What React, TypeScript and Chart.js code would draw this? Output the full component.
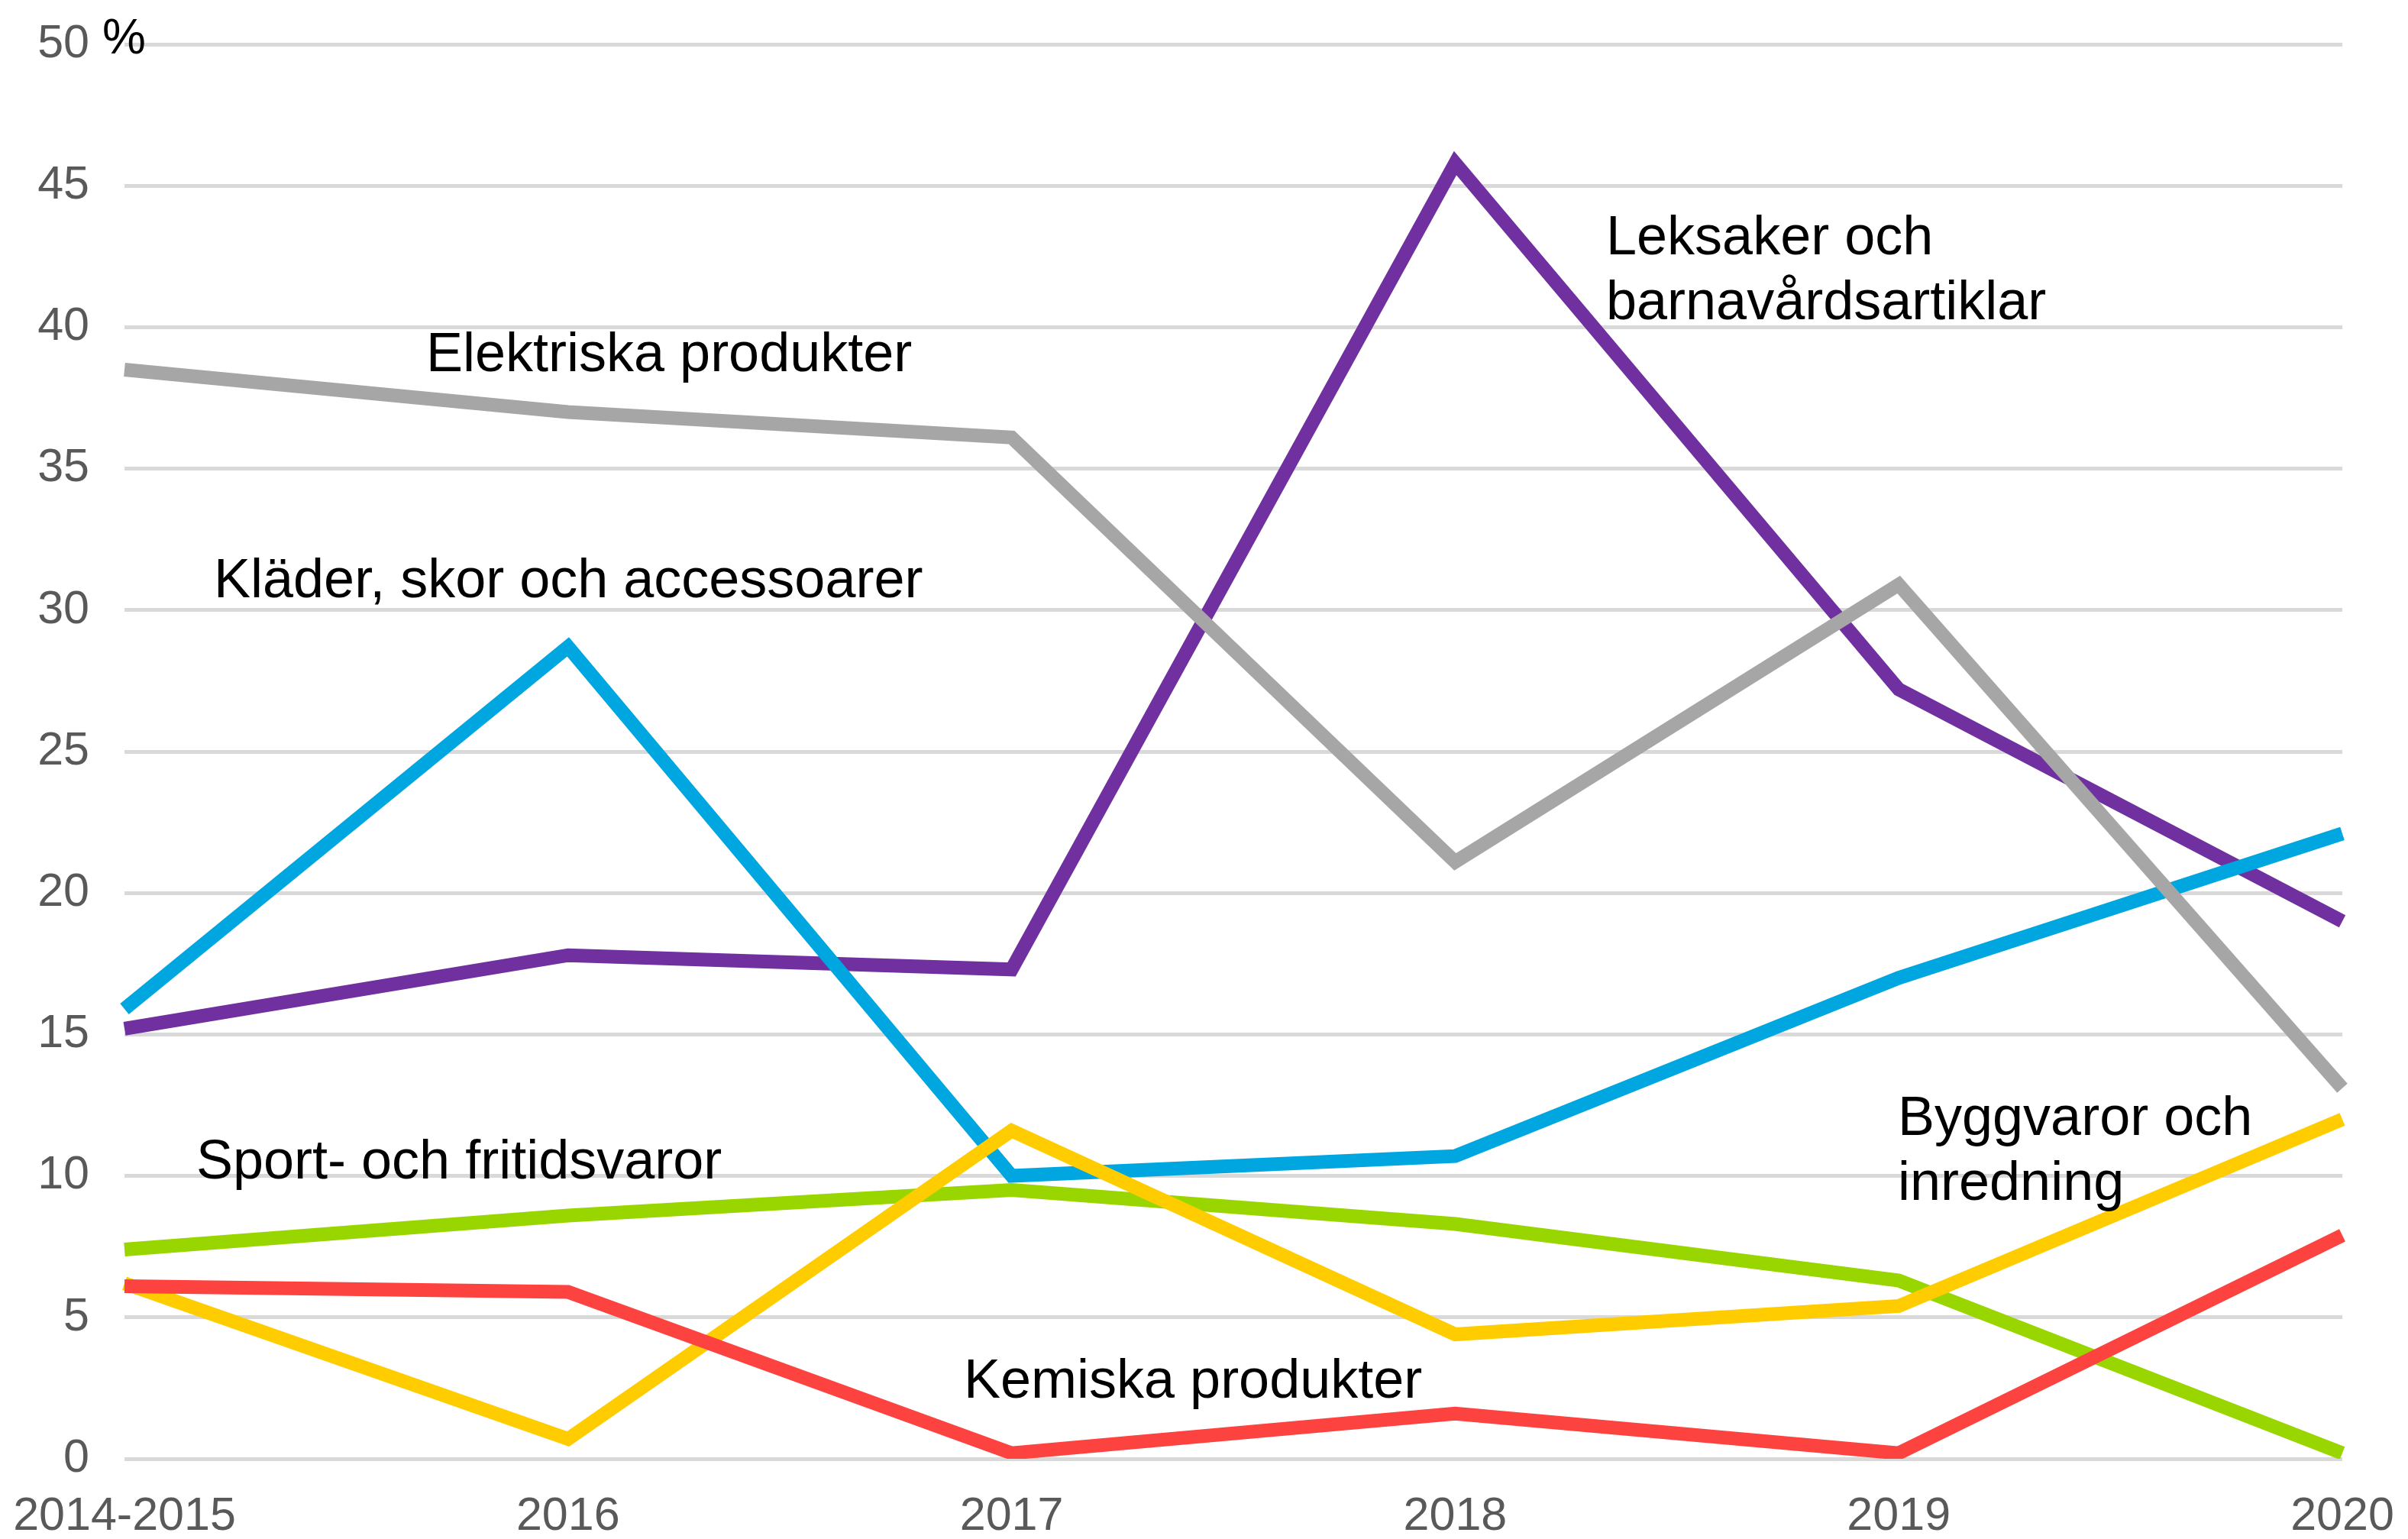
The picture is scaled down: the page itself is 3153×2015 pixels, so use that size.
import React, { useEffect, useRef } from "react";
import { Chart, registerables } from "chart.js";

Chart.register(...registerables);

const categories = ["2014-2015", "2016", "2017", "2018", "2019", "2020"];
const kemiska = [6.1, 5.9, 0.2, 1.6, 0.2, 7.9];
const elektriska = [38.5, 37.0, 36.1, 21.1, 30.9, 13.1];
const byggvaror = [6.2, 0.7, 11.6, 4.4, 5.4, 12.0];
const sport = [7.4, 8.6, 9.5, 8.3, 6.3, 0.2];
const klader = [15.9, 28.7, 10.0, 10.7, 17.0, 22.1];
const leksaker = [15.2, 17.8, 17.3, 45.8, 27.2, 19.0];
const yTicks = [0, 5, 10, 15, 20, 25, 30, 35, 40, 45, 50];

const W = 3153;
const H = 2015;
const FONT = "'Liberation Sans', Arial, sans-serif";

const annotations: { lines: string[]; x: number; y: number }[] = [
  { lines: ["Elektriska produkter"], x: 558, y: 486 },
  { lines: ["Leksaker och", "barnavårdsartiklar"], x: 2103, y: 333 },
  { lines: ["Kläder, skor och accessoarer"], x: 280, y: 782 },
  { lines: ["Sport- och fritidsvaror"], x: 257, y: 1543 },
  { lines: ["Byggvaror och", "inredning"], x: 2485, y: 1486 },
  { lines: ["Kemiska produkter"], x: 1262, y: 1830 },
];

const textPlugin = {
  id: "textPlugin",
  afterDatasetsDraw(chart: any) {
    const ctx = chart.ctx;
    ctx.save();
    ctx.fillStyle = "#000000";
    ctx.textBaseline = "alphabetic";
    ctx.textAlign = "left";
    ctx.font = `72px ${FONT}`;
    for (const a of annotations) {
      a.lines.forEach((l, i) => ctx.fillText(l, a.x, a.y + i * 85));
    }
    ctx.font = `64px ${FONT}`;
    ctx.fillText("%", 134, 70);
    ctx.restore();
  },
};

export default function App() {
  const ref = useRef<HTMLCanvasElement>(null);
  useEffect(() => {
    document.body.style.margin = "0";
    const mk = (label: string, data: number[], color: string) => ({
      label,
      data,
      borderColor: color,
      backgroundColor: color,
      borderWidth: 18,
      pointRadius: 0,
      tension: 0,
      fill: false,
    });
    const chart = new Chart(ref.current!, {
      type: "line",
      data: {
        labels: categories,
        datasets: [
          mk("Kemiska produkter", kemiska, "#fc4340"),
          mk("Elektriska produkter", elektriska, "#a6a6a6"),
          mk("Byggvaror och inredning", byggvaror, "#ffcc00"),
          mk("Sport- och fritidsvaror", sport, "#99d600"),
          mk("Kläder, skor och accessoarer", klader, "#00a6e0"),
          mk("Leksaker och barnavårdsartiklar", leksaker, "#7030a0"),
        ],
      },
      options: {
        animation: false,
        responsive: false,
        maintainAspectRatio: false,
        layout: { padding: { left: 0, top: 58, right: W - 3067, bottom: 0 } },
        plugins: { legend: { display: false }, tooltip: { enabled: false }, title: { display: false } },
        scales: {
          x: {
            offset: false,
            grid: { display: false, drawTicks: false },
            border: { display: false },
            ticks: { color: "#595959", font: { size: 61, family: FONT }, padding: 40, maxRotation: 0, autoSkip: false },
            afterFit: (s: any) => {
              s.height = H - 1910;
              s.paddingLeft = 0;
              s.paddingRight = 0;
              s.paddingTop = 0;
              s.paddingBottom = 0;
            },
          },
          y: {
            min: 0,
            max: 50,
            afterBuildTicks: (s: any) => { s.ticks = yTicks.map((v) => ({ value: v })); },
            grid: { color: "#d9d9d9", lineWidth: 5, drawTicks: false },
            border: { display: false },
            ticks: { color: "#595959", font: { size: 61, family: FONT }, padding: 46 },
            afterFit: (s: any) => {
              s.width = 163;
              s.paddingLeft = 0;
              s.paddingRight = 0;
              s.paddingTop = 0;
              s.paddingBottom = 0;
            },
          },
        },
      },
      plugins: [textPlugin],
    });
    return () => chart.destroy();
  }, []);
  return (
    <div style={{ width: W, height: H, background: "#fff" }}>
      <canvas ref={ref} width={W} height={H} style={{ width: W, height: H, display: "block" }} />
    </div>
  );
}
